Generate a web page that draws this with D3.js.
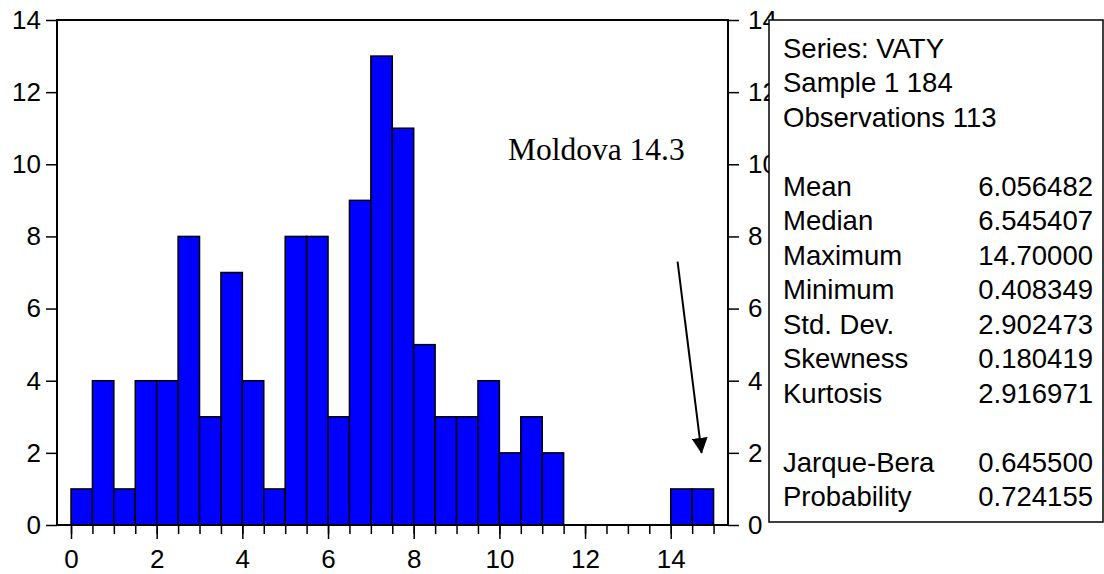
<!DOCTYPE html>
<html>
<head>
<meta charset="utf-8">
<script src="https://cdn.jsdelivr.net/npm/d3@7"></script>
<style>
  html, body { margin: 0; padding: 0; background: #fff; }
  svg { display: block; }
  text { font-family: Arial, "Liberation Sans", sans-serif; }
</style>
</head>
<body>
<svg id="chart" width="1104" height="574"></svg>
<script>
// ---------- DATA ----------
const binLower = [0, 0.5, 1, 1.5, 2, 2.5, 3, 3.5, 4, 4.5, 5, 5.5, 6, 6.5, 7, 7.5, 8, 8.5, 9, 9.5, 10, 10.5, 11, 11.5, 12, 12.5, 13, 13.5, 14, 14.5];
const counts   = [1, 4, 1, 4, 4, 8, 3, 7, 4, 1, 8, 8, 3, 9, 13, 11, 5, 3, 3, 4, 2, 3, 2, 0, 0, 0, 0, 0, 1, 1];
const binWidth = 0.5;
const xTickLabels = [0, 2, 4, 6, 8, 10, 12, 14];
const xMinorTicks = [0, 0.5, 1, 1.5, 2, 2.5, 3, 3.5, 4, 4.5, 5, 5.5, 6, 6.5, 7, 7.5, 8, 8.5, 9, 9.5, 10, 10.5, 11, 11.5, 12, 12.5, 13, 13.5, 14, 14.5, 15];
const yTickLabels = [0, 2, 4, 6, 8, 10, 12, 14];
const headerLines = ["Series: VATY", "Sample 1 184", "Observations 113"];
const statLabels = ["Mean", "Median", "Maximum", "Minimum", "Std. Dev.", "Skewness", "Kurtosis"];
const statValues = ["6.056482", "6.545407", "14.70000", "0.408349", "2.902473", "0.180419", "2.916971"];
const testLabels = ["Jarque-Bera", "Probability"];
const testValues = ["0.645500", "0.724155"];
const annotationText = "Moldova 14.3";
const annotationArrow = { from: [14.16, 7.3], to: [14.72, 2.0] };

// ---------- LAYOUT ----------
const svg = d3.select("#chart");
const plot = { left: 57, right: 728, top: 20, bottom: 525 };
const x = d3.scaleLinear().domain([-0.327, 15.337]).range([plot.left, plot.right]);
const y = d3.scaleLinear().domain([0, 14]).range([plot.bottom, plot.top]);

// bars
const bins = binLower.map((b, i) => ({ x0: b, x1: b + binWidth, n: counts[i] })).filter(d => d.n > 0);
svg.append("g").selectAll("rect").data(bins).join("rect")
  .attr("x", d => x(d.x0))
  .attr("y", d => y(d.n))
  .attr("width", d => x(d.x1) - x(d.x0))
  .attr("height", d => y(0) - y(d.n))
  .attr("fill", "#0000ff")
  .attr("stroke", "#000")
  .attr("stroke-width", 1.5);

// axes
function styleAxis(g) {
  g.select(".domain").remove();
  g.selectAll("line").attr("stroke", "#000").attr("stroke-width", 1.5);
  g.selectAll("text").attr("fill", "#000").style("font-size", "26px")
    .style("font-family", "Arial, 'Liberation Sans', sans-serif");
}

svg.append("g").attr("transform", `translate(0,${plot.bottom})`)
  .call(d3.axisBottom(x).tickValues(xMinorTicks).tickSize(9).tickFormat(""))
  .call(styleAxis);
svg.append("g").attr("transform", `translate(0,${plot.bottom})`)
  .call(d3.axisBottom(x).tickValues(xTickLabels).tickSize(14).tickPadding(11).tickFormat(d3.format("d")))
  .call(styleAxis);
svg.append("g").attr("transform", `translate(${plot.left},0)`)
  .call(d3.axisLeft(y).tickValues(yTickLabels).tickSize(11).tickPadding(5).tickFormat(d3.format("d")))
  .call(styleAxis);
svg.append("g").attr("transform", `translate(${plot.right},0)`)
  .call(d3.axisRight(y).tickValues(yTickLabels).tickSize(11).tickPadding(9).tickFormat(d3.format("d")))
  .call(styleAxis);

// frame
svg.append("rect")
  .attr("x", plot.left).attr("y", plot.top)
  .attr("width", plot.right - plot.left).attr("height", plot.bottom - plot.top)
  .attr("fill", "none").attr("stroke", "#000").attr("stroke-width", 2);

// annotation
svg.append("text")
  .attr("x", 508).attr("y", 160)
  .style("font-family", "'Times New Roman', 'Liberation Serif', serif")
  .style("font-size", "31.5px")
  .text(annotationText);

svg.append("defs").append("marker")
  .attr("id", "ah").attr("viewBox", "0 0 16 16")
  .attr("refX", 15).attr("refY", 8)
  .attr("markerWidth", 16).attr("markerHeight", 16)
  .attr("markerUnits", "userSpaceOnUse")
  .attr("orient", "auto")
  .append("path").attr("d", "M0,0 L16,8 L0,16 Z").attr("fill", "#000");

svg.append("line")
  .attr("x1", x(annotationArrow.from[0])).attr("y1", y(annotationArrow.from[1]))
  .attr("x2", x(annotationArrow.to[0])).attr("y2", y(annotationArrow.to[1]))
  .attr("stroke", "#000").attr("stroke-width", 2)
  .attr("marker-end", "url(#ah)");

// stats box
const box = { left: 769, top: 20, right: 1103, bottom: 522 };
svg.append("rect")
  .attr("x", box.left).attr("y", box.top)
  .attr("width", box.right - box.left).attr("height", box.bottom - box.top)
  .attr("fill", "#fff").attr("stroke", "#000").attr("stroke-width", 1.5);

const lineH = 34.5, firstBase = 57.5, labelX = 783, valueX = 1093;
const rows = [];
headerLines.forEach((t, i) => rows.push({ label: t, value: "", row: i }));
statLabels.forEach((t, i) => rows.push({ label: t, value: statValues[i], row: 4 + i }));
testLabels.forEach((t, i) => rows.push({ label: t, value: testValues[i], row: 12 + i }));

const st = svg.append("g").style("font-size", "27.5px");
st.selectAll("text.lab").data(rows).join("text").attr("class", "lab")
  .attr("x", labelX).attr("y", d => firstBase + d.row * lineH)
  .text(d => d.label);
st.selectAll("text.val").data(rows.filter(d => d.value)).join("text").attr("class", "val")
  .attr("x", valueX).attr("y", d => firstBase + d.row * lineH)
  .attr("text-anchor", "end")
  .text(d => d.value);
</script>
</body>
</html>
